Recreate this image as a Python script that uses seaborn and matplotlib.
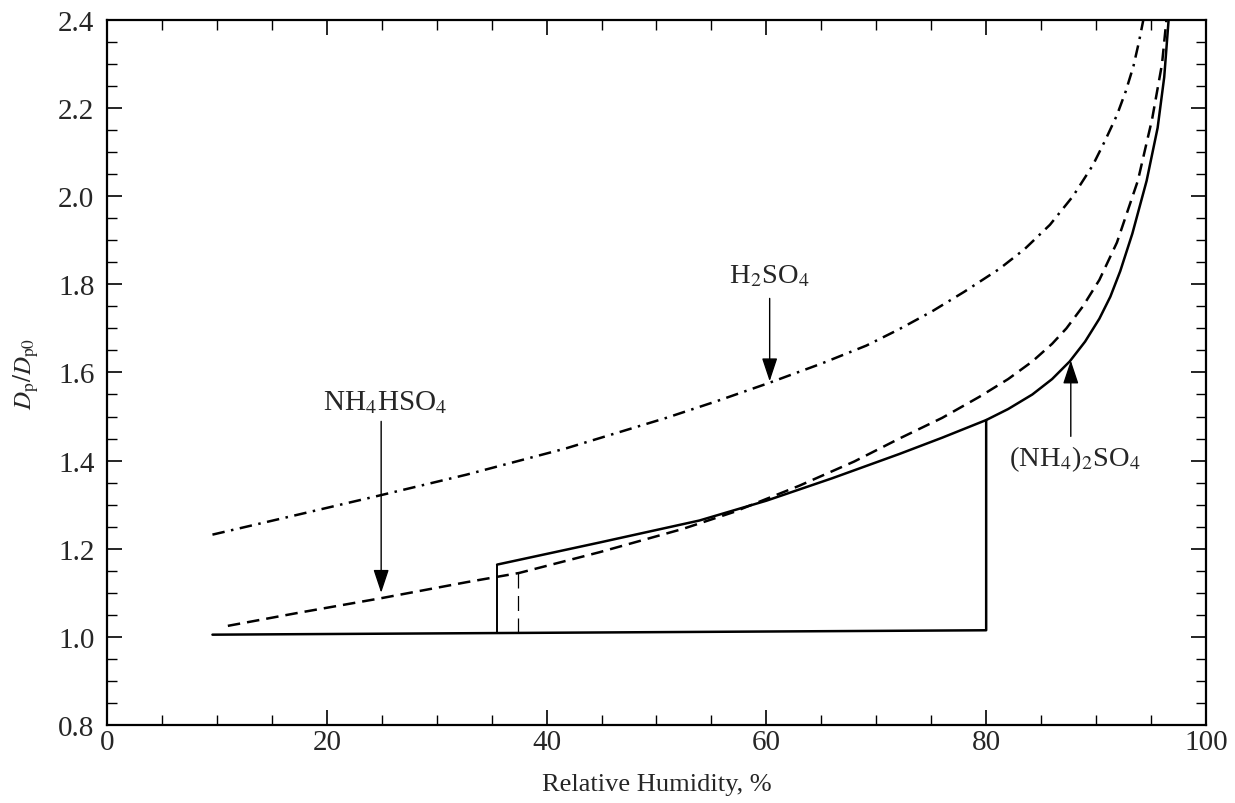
import matplotlib
matplotlib.use("Agg")
import matplotlib.pyplot as plt
import seaborn as sns
from matplotlib.ticker import MultipleLocator

# Growth curves (relative humidity %, Dp/Dp0)
H2SO4_RH = [9.6, 17.5, 25.0, 32.7, 41.8, 50.9, 55.5, 60.1, 65.0, 69.1, 72.0, 75.1,
            78.0, 81.2, 83.5, 85.8, 87.9, 89.7, 90.8, 91.9, 92.7, 93.4, 93.9, 94.3]
H2SO4_D = [1.232, 1.278, 1.322, 1.368, 1.428, 1.497, 1.535, 1.575, 1.620, 1.661, 1.697, 1.739,
           1.783, 1.835, 1.880, 1.935, 2.000, 2.070, 2.125, 2.184, 2.238, 2.295, 2.350, 2.400]

NH4HSO4_RH = [11.0, 17.5, 25.0, 32.7, 37.5, 44.8, 52.4, 57.0, 63.0, 68.0, 72.1, 76.0,
              79.4, 82.0, 84.2, 86.0, 87.3, 88.8, 90.3, 91.9, 93.8, 95.1, 96.0, 96.4]
NH4HSO4_D = [1.025, 1.055, 1.088, 1.124, 1.145, 1.192, 1.245, 1.283, 1.343, 1.398, 1.450, 1.497,
             1.545, 1.585, 1.625, 1.665, 1.700, 1.750, 1.810, 1.895, 2.035, 2.175, 2.300, 2.400]

AS_RH = [35.5, 44.8, 53.9, 60.0, 66.0, 72.1, 76.0, 80.0, 82.0, 84.2, 86.0, 87.6,
         89.0, 90.3, 91.3, 92.2, 93.3, 94.6, 95.6, 96.2, 96.6]
AS_D = [1.164, 1.214, 1.264, 1.309, 1.360, 1.415, 1.452, 1.492, 1.517, 1.550, 1.585, 1.625,
        1.670, 1.722, 1.772, 1.830, 1.915, 2.035, 2.155, 2.270, 2.400]

# dry branch and the deliquescence jump of (NH4)2SO4
DRY_RH = [9.6, 80.0, 80.0]
DRY_D = [1.005, 1.015, 1.492]
EFFL_RH = [35.5, 35.5]
EFFL_D = [1.008, 1.164]
NH4HSO4_EFFL_RH = [37.4, 37.4]
NH4HSO4_EFFL_D = [1.009, 1.145]

sns.set_style("ticks")
plt.rcParams['font.family'] = ['Liberation Serif', 'DejaVu Serif']
plt.rcParams['mathtext.fontset'] = 'stix'

fig = plt.figure(figsize=(12.35, 8.04), dpi=100)
ax = fig.add_axes([0.0866, 0.097, 0.8899, 0.877])

LW = 1.8
sns.lineplot(x=H2SO4_RH, y=H2SO4_D, sort=False, estimator=None, color='black',
             linewidth=LW, linestyle=(0, (5, 2.6, 1, 2.6)), ax=ax)
sns.lineplot(x=NH4HSO4_RH, y=NH4HSO4_D, sort=False, estimator=None, color='black',
             linewidth=LW, linestyle=(0, (5, 2.8)), ax=ax)
sns.lineplot(x=AS_RH, y=AS_D, sort=False, estimator=None, color='black',
             linewidth=LW, ax=ax)
sns.lineplot(x=DRY_RH, y=DRY_D, sort=False, estimator=None, color='black',
             linewidth=LW, ax=ax)
sns.lineplot(x=EFFL_RH, y=EFFL_D, sort=False, estimator=None, color='black',
             linewidth=1.4, ax=ax)
sns.lineplot(x=NH4HSO4_EFFL_RH, y=NH4HSO4_EFFL_D, sort=False, estimator=None,
             color='black', linewidth=0.9, linestyle=(0, (12, 6)), ax=ax)

ax.set_xlim(0, 100)
ax.set_ylim(0.8, 2.4)
ax.xaxis.set_major_locator(MultipleLocator(20))
ax.xaxis.set_minor_locator(MultipleLocator(5))
ax.yaxis.set_major_locator(MultipleLocator(0.2))
ax.yaxis.set_minor_locator(MultipleLocator(0.05))
ax.xaxis.set_major_formatter(lambda v, p: f"{v:.0f}")
ax.yaxis.set_major_formatter(lambda v, p: f"{v:.1f}")
ax.tick_params(which='both', direction='in', top=True, right=True, color='black',
               labelsize=21)
ax.tick_params(which='major', length=10.5, width=1.2)
ax.tick_params(which='minor', length=7, width=1.0)
ax.tick_params(axis='x', pad=3)
ax.tick_params(axis='y', pad=9)
for s in ax.spines.values():
    s.set_linewidth(1.6)
    s.set_color('black')

ax.set_xlabel("Relative Humidity, %", fontsize=19, labelpad=13)
ax.set_ylabel(r"$D_{\rm p}/D_{\rm p0}$", fontsize=18, labelpad=12)

arrow = dict(arrowstyle='-|>,head_length=0.9,head_width=0.3', color='black',
             lw=1.0, mutation_scale=16, shrinkA=0, shrinkB=0)
ax.text(60.3, 1.805, r"H$_2$SO$_4$", fontsize=20.5, ha='center', va='baseline')
ax.annotate("", xy=(60.3, 1.58), xytext=(60.3, 1.768), arrowprops=arrow)
ax.text(25.3, 1.516, r"NH$_4$HSO$_4$", fontsize=21, ha='center', va='baseline')
ax.annotate("", xy=(24.95, 1.10), xytext=(24.95, 1.489), arrowprops=arrow)
ax.text(88.1, 1.389, r"(NH$_4$)$_2$SO$_4$", fontsize=20.5, ha='center', va='baseline')
ax.annotate("", xy=(87.7, 1.627), xytext=(87.7, 1.455), arrowprops=arrow)

fig.savefig("out.png", dpi=100)
